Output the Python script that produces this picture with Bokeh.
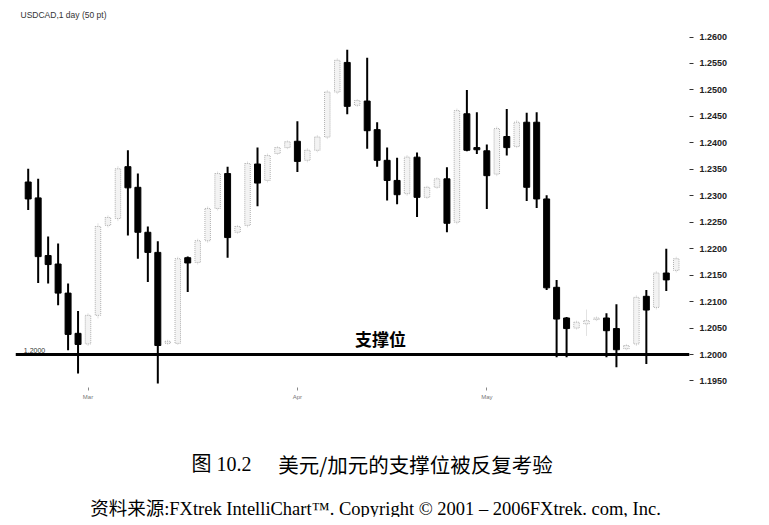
from bokeh.plotting import figure
from bokeh.models import ColumnDataSource, Range1d, FixedTicker, Span, Label
from bokeh.layouts import column
from bokeh.embed import file_html
from bokeh.resources import INLINE

# ---- data ----
opens = [1.2326, 1.2296, 1.2187, 1.2171, 1.2116, 1.2040, 1.2020, 1.2074, 1.2244, 1.2257,
         1.2355, 1.2316, 1.2231, 1.2193, 1.2021, 1.2021, 1.2183, 1.2174, 1.2215, 1.2276,
         1.2342, 1.2231, 1.2244, 1.2360, 1.2329, 1.2380, 1.2391, 1.2403, 1.2367, 1.2386,
         1.2411, 1.2496, 1.2552, 1.2471, 1.2479, 1.2425, 1.2367, 1.2329, 1.2304, 1.2373,
         1.2297, 1.2316, 1.2332, 1.2250, 1.2455, 1.2391, 1.2385, 1.2341, 1.2412, 1.2393,
         1.2439, 1.2439, 1.2294, 1.2127, 1.2069, 1.2050, 1.2058, 1.2066, 1.2069, 1.2049,
         1.2011, 1.2020, 1.2110, 1.2089, 1.2154, 1.2159]
highs = [1.2351, 1.2332, 1.2223, 1.2210, 1.2134, 1.2082, 1.2078, 1.2248, 1.2263, 1.2356,
         1.2386, 1.2342, 1.2242, 1.2214, 1.2028, 1.2185, 1.2185, 1.2219, 1.2280, 1.2346,
         1.2355, 1.2245, 1.2365, 1.2391, 1.2380, 1.2394, 1.2405, 1.2441, 1.2390, 1.2415,
         1.2500, 1.2560, 1.2576, 1.2483, 1.2561, 1.2439, 1.2391, 1.2372, 1.2377, 1.2382,
         1.2319, 1.2335, 1.2354, 1.2465, 1.2500, 1.2458, 1.2397, 1.2431, 1.2464, 1.2443,
         1.2457, 1.2458, 1.2301, 1.2141, 1.2071, 1.2064, 1.2085, 1.2072, 1.2078, 1.2095,
         1.2020, 1.2112, 1.2122, 1.2158, 1.2200, 1.2185]
lows = [1.2273, 1.2135, 1.2134, 1.2093, 1.2008, 1.1964, 1.2016, 1.2068, 1.2240, 1.2252,
        1.2225, 1.2181, 1.2137, 1.1945, 1.2018, 1.2018, 1.2118, 1.2170, 1.2211, 1.2272,
        1.2183, 1.2228, 1.2240, 1.2280, 1.2325, 1.2377, 1.2388, 1.2345, 1.2363, 1.2382,
        1.2407, 1.2492, 1.2454, 1.2468, 1.2389, 1.2355, 1.2291, 1.2284, 1.2300, 1.2260,
        1.2294, 1.2313, 1.2231, 1.2246, 1.2384, 1.2379, 1.2275, 1.2337, 1.2376, 1.2390,
        1.2290, 1.2277, 1.2122, 1.1995, 1.1995, 1.2047, 1.2035, 1.2063, 1.1995, 1.1976,
        1.2008, 1.2016, 1.1982, 1.2085, 1.2120, 1.2155]
closes = [1.2294, 1.2185, 1.2170, 1.2116, 1.2038, 1.2019, 1.2074, 1.2242, 1.2259, 1.2351,
          1.2315, 1.2231, 1.2193, 1.2017, 1.2025, 1.2181, 1.2173, 1.2215, 1.2276, 1.2342,
          1.2221, 1.2242, 1.2361, 1.2324, 1.2376, 1.2391, 1.2402, 1.2365, 1.2386, 1.2411,
          1.2496, 1.2556, 1.2469, 1.2480, 1.2423, 1.2367, 1.2329, 1.2302, 1.2373, 1.2297,
          1.2316, 1.2332, 1.2248, 1.2461, 1.2386, 1.2387, 1.2338, 1.2427, 1.2391, 1.2439,
          1.2316, 1.2294, 1.2126, 1.2067, 1.2049, 1.2061, 1.2064, 1.2069, 1.2045, 1.2009,
          1.2017, 1.2108, 1.2084, 1.2154, 1.2141, 1.2181]

support_level = 1.2000
support_text = "支撑位"
chart_title = "USDCAD,1 day (50 pt)"
price_ticks = [1.1950, 1.2000, 1.2050, 1.2100, 1.2150, 1.2200, 1.2250, 1.2300,
               1.2350, 1.2400, 1.2450, 1.2500, 1.2550, 1.2600]
date_ticks = [6, 27, 46]
date_labels = ["Mar", "Apr", "May"]
caption_fig = "图 10.2"
caption_text = "美元/加元的支撑位被反复考验"
source_text = "资料来源:FXtrek IntelliChart™. Copyright © 2001 – 2006FXtrek. com, Inc."

# ---- sources ----
idx = list(range(len(opens)))
up = [c >= o for o, c in zip(opens, closes)]

def subset(mask):
    return ColumnDataSource(dict(
        x=[i for i, m in zip(idx, mask) if m],
        h=[v for v, m in zip(highs, mask) if m],
        l=[v for v, m in zip(lows, mask) if m],
        top=[max(a, b) for a, b, m in zip(opens, closes, mask) if m],
        bot=[min(a, b) for a, b, m in zip(opens, closes, mask) if m],
    ))

src_up = subset(up)
src_dn = subset([not u for u in up])

# ---- chart ----
px_per_bar = 9.97
x0_px = 27.7
frame_left_px, frame_right_px = 15, 689
fig_w = 761
px_per_price = 1 / 0.000189
frame_top_px, frame_bottom_px = 8, 390
line_px = 354

xr = Range1d((frame_left_px - x0_px) / px_per_bar, (frame_right_px - x0_px) / px_per_bar)
yr = Range1d(support_level - (frame_bottom_px - line_px) / px_per_price,
             support_level + (line_px - frame_top_px) / px_per_price)

p = figure(width=fig_w, height=408, x_range=xr, y_range=yr,
           output_backend="svg", toolbar_location=None, y_axis_location="right",
           min_border_left=frame_left_px, min_border_right=fig_w - frame_right_px,
           min_border_top=frame_top_px, min_border_bottom=18)
p.outline_line_color = None
p.grid.visible = False
p.background_fill_color = "white"
p.border_fill_color = "white"

# right price axis
ya = p.yaxis[0]
ya.ticker = FixedTicker(ticks=price_ticks)
ya.major_label_overrides = {t: "%.4f" % t for t in price_ticks}
ya.axis_line_color = None
ya.major_tick_in = 0
ya.major_tick_out = 4
ya.major_tick_line_color = "#333333"
ya.minor_tick_line_color = None
ya.major_label_standoff = 6
ya.major_label_text_font = "Liberation Sans"
ya.major_label_text_font_size = "9px"
ya.major_label_text_font_style = "bold"
ya.major_label_text_color = "#222222"

# bottom date axis
xa = p.xaxis[0]
xa.ticker = FixedTicker(ticks=date_ticks)
xa.major_label_overrides = {t: s for t, s in zip(date_ticks, date_labels)}
xa.axis_line_color = None
xa.major_tick_in = 3
xa.major_tick_out = 0
xa.major_tick_line_color = "#888888"
xa.minor_tick_line_color = None
xa.major_label_standoff = 3
xa.major_label_text_font = "Liberation Sans"
xa.major_label_text_font_size = "6px"
xa.major_label_text_color = "#777777"

# support line
p.add_layout(Span(location=support_level, dimension="width", line_color="black", line_width=3))

# up candles (light, dotted)
p.segment(x0="x", y0="h", x1="x", y1="l", source=src_up, line_color="#e2e2e2", line_width=1)
p.vbar(x="x", top="top", bottom="bot", width=0.55, source=src_up,
       fill_color="#f3f3f3", line_color="#b0b0b0", line_width=1, line_dash="1 1")

# down candles (black)
p.segment(x0="x", y0="h", x1="x", y1="l", source=src_dn, line_color="black", line_width=2)
p.vbar(x="x", top="top", bottom="bot", width=0.6, source=src_dn,
       fill_color="black", line_color="black", line_width=1)

# annotations
p.add_layout(Label(x=(20 - x0_px) / px_per_bar, y=support_level + (line_px - 14) / px_per_price,
                   text=chart_title, text_font="Liberation Sans", text_font_size="8.5px",
                   text_color="#333333", text_baseline="middle", text_align="left"))
p.add_layout(Label(x=(34 - x0_px) / px_per_bar, y=support_level + 2 / px_per_price,
                   text="%.4f" % support_level, text_font="Liberation Sans", text_font_size="7px",
                   text_color="#333333", text_baseline="bottom", text_align="center"))
p.add_layout(Label(x=(380 - x0_px) / px_per_bar, y=support_level + (line_px - 338) / px_per_price,
                   text=support_text, text_font="Noto Sans CJK SC", text_font_size="17px",
                   text_font_style="bold", text_color="black",
                   text_baseline="middle", text_align="center"))

# ---- caption area (same side borders as the chart, so column alignment keeps x = page px) ----
cap_top_px = 408
cap_h = 109
cap = figure(width=fig_w, height=cap_h,
             x_range=Range1d(frame_left_px, frame_right_px), y_range=Range1d(0, cap_h),
             output_backend="svg", toolbar_location=None,
             min_border_left=frame_left_px, min_border_right=fig_w - frame_right_px,
             min_border_top=0, min_border_bottom=0)
cap.axis.visible = False
cap.grid.visible = False
cap.outline_line_color = None

def cy(ref_y):
    return cap_h - (ref_y - cap_top_px)

cap.add_layout(Label(x=221, y=cy(463), text=caption_fig,
                     text_font="'Liberation Serif', 'Noto Sans CJK SC'", text_font_size="20px",
                     text_color="black", text_baseline="middle", text_align="center"))
cap.add_layout(Label(x=415, y=cy(463), text=caption_text,
                     text_font="Noto Sans CJK SC", text_font_size="20.5px",
                     text_color="black", text_baseline="middle", text_align="center"))
cap.add_layout(Label(x=375, y=cy(508), text=source_text,
                     text_font="'Liberation Serif', 'Noto Sans CJK SC'", text_font_size="18.5px",
                     text_color="black", text_baseline="middle", text_align="center"))

layout = column(p, cap, spacing=0)
open("out.html", "w").write(file_html(layout, INLINE))
